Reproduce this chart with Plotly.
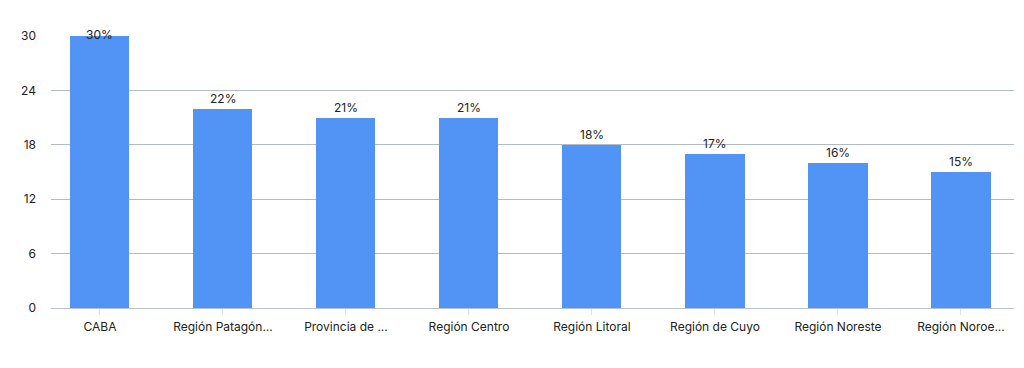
import plotly.graph_objects as go

categories = ["CABA", "Región Patagón...", "Provincia de ...", "Región Centro",
              "Región Litoral", "Región de Cuyo", "Región Noreste", "Región Noroe..."]
values = [30, 22, 21, 21, 18, 17, 16, 15]
labels = [f"{v}%" for v in values]
y_ticks = [0, 6, 12, 18, 24, 30]
y_max = 30

fig = go.Figure(go.Bar(
    x=list(range(len(categories))), y=values,
    marker=dict(color="#5294F5", line=dict(width=0)),
    width=0.48, hoverinfo="skip",
))

for i, (v, t) in enumerate(zip(values, labels)):
    at_top = v >= y_max
    fig.add_annotation(
        x=i, y=v, text=t, showarrow=False,
        yanchor="middle" if at_top else "bottom",
        yshift=2 if at_top else 1,
        font=dict(size=12, color="#222222"),
    )

fig.update_layout(
    width=1024, height=368,
    margin=dict(l=51, r=10, t=36, b=60),
    paper_bgcolor="white", plot_bgcolor="white",
    font=dict(family="Inter, Helvetica, Arial, sans-serif", size=12, color="#222222"),
    showlegend=False,
    bargap=0,
)
fig.update_xaxes(
    tickmode="array", tickvals=list(range(len(categories))), ticktext=categories,
    range=[-0.398, 7.431], showgrid=False, zeroline=False,
    showline=True, linecolor="#B8C2CC", linewidth=1,
    ticks="outside", ticklen=6, tickcolor="#E0E0E0",
    ticklabelstandoff=2,
    tickfont=dict(size=12, color="#222222"),
)
fig.update_yaxes(
    range=[0, y_max], tickvals=y_ticks, showgrid=True, gridcolor="#B0BCC8", gridwidth=1,
    zeroline=False, showline=False, ticks="", ticklabelstandoff=14,
    tickfont=dict(size=12, color="#222222"),
)

fig.write_html("out.html")
